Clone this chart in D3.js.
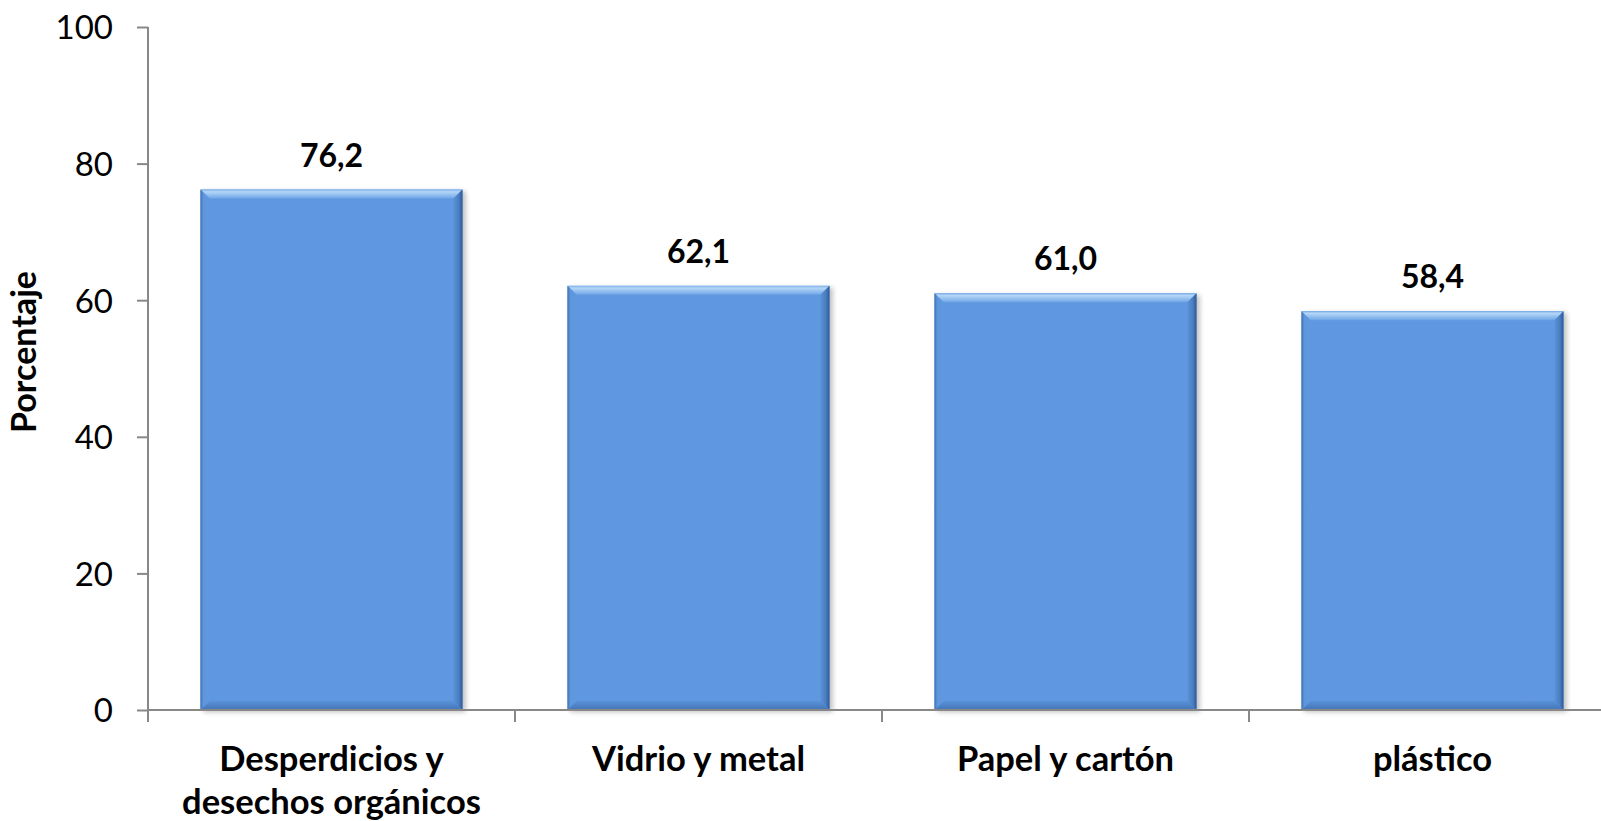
<!DOCTYPE html>
<html>
<head>
<meta charset="utf-8">
<script src="https://cdn.jsdelivr.net/npm/d3@7"></script>
<style>
  html, body { margin: 0; padding: 0; background: #fff; overflow: hidden; }
  text { font-family: Lato, "Open Sans", sans-serif; fill: #000; }
</style>
</head>
<body>
<svg id="chart" width="1601" height="821"></svg>
<script>
const categories = [["Desperdicios y", "desechos orgánicos"], ["Vidrio y metal"], ["Papel y cartón"], ["plástico"]];
const values = [76.2, 62.1, 61.0, 58.4];
const yTicks = [0, 20, 40, 60, 80, 100];
const yTitle = "Porcentaje";

(function () {
const svg = d3.select("#chart");
const mLeft = 148, mRight = 1616, mTop = 27, mBottom = 710;
const keys = categories.map((c, i) => i);

const x = d3.scaleBand().domain(keys).range([mLeft, mRight]).paddingInner(0.286).paddingOuter(0.143);
const y = d3.scaleLinear().domain([0, 100]).range([mBottom, mTop]);

const defs = svg.append("defs");
function lg(id, x1, y1, x2, y2, stops) {
  const g = defs.append("linearGradient").attr("id", id)
    .attr("x1", x1).attr("y1", y1).attr("x2", x2).attr("y2", y2);
  stops.forEach(s => g.append("stop").attr("offset", s[0]).attr("stop-color", s[1]));
}
lg("gTop", 0, 0, 0, 1, [[0, "#7FB0EA"], [0.25, "#B4D6F7"], [1, "#6EA5E6"]]);
lg("gBot", 0, 0, 0, 1, [[0, "#5A92D8"], [1, "#4374B5"]]);
lg("gLeft", 0, 0, 1, 0, [[0, "#3F6FAF"], [0.3, "#5D96DC"], [1, "#5F99E0"]]);
lg("gRight", 0, 0, 1, 0, [[0, "#5A92D8"], [0.6, "#4A7DC0"], [1, "#2E5994"]]);
const f = defs.append("filter").attr("id", "shadow").attr("x", "-10%").attr("y", "-10%").attr("width", "130%").attr("height", "130%");
f.append("feGaussianBlur").attr("in", "SourceAlpha").attr("stdDeviation", 2.5);
f.append("feOffset").attr("dx", 3).attr("dy", 2).attr("result", "b");
f.append("feComponentTransfer").append("feFuncA").attr("type", "linear").attr("slope", 0.25);
const fm = f.append("feMerge");
fm.append("feMergeNode");
fm.append("feMergeNode").attr("in", "SourceGraphic");

// y axis
const yAxis = svg.append("g").attr("transform", `translate(${mLeft},0)`)
  .call(d3.axisLeft(y).tickValues(yTicks).tickSize(11).tickPadding(24).tickFormat(d3.format("d")));
yAxis.select(".domain").attr("stroke", "#888").attr("stroke-width", 2).attr("d", `M0,${mTop}V${mBottom}`);
yAxis.selectAll(".tick line").attr("stroke", "#888").attr("stroke-width", 2);
yAxis.selectAll(".tick text").attr("font-size", 33).attr("font-family", "Lato").attr("fill", "#000").attr("dy", "0.36em");

// bars
const bw = x.bandwidth(), bv = 9;
const bars = svg.append("g").selectAll("g").data(values).join("g").attr("filter", "url(#shadow)");
bars.each(function (v, i) {
  const g = d3.select(this);
  const x0 = x(i), x1 = x0 + bw, y0 = y(v), y1 = y(0);
  g.append("rect").attr("x", x0).attr("y", y0).attr("width", bw).attr("height", y1 - y0).attr("fill", "#5E98E0");
  g.append("path").attr("d", `M${x0},${y0}L${x1},${y0}L${x1 - bv},${y0 + bv}L${x0 + bv},${y0 + bv}Z`).attr("fill", "url(#gTop)");
  g.append("path").attr("d", `M${x0},${y1}L${x1},${y1}L${x1 - bv},${y1 - bv}L${x0 + bv},${y1 - bv}Z`).attr("fill", "url(#gBot)");
  g.append("path").attr("d", `M${x0},${y0}L${x0 + bv},${y0 + bv}L${x0 + bv},${y1 - bv}L${x0},${y1}Z`).attr("fill", "url(#gLeft)");
  g.append("path").attr("d", `M${x1},${y0}L${x1 - bv},${y0 + bv}L${x1 - bv},${y1 - bv}L${x1},${y1}Z`).attr("fill", "url(#gRight)");
});

// x axis
const xAxis = svg.append("g").attr("transform", `translate(0,${mBottom})`);
xAxis.append("line").attr("x1", mLeft).attr("x2", mRight).attr("y1", 0).attr("y2", 0).attr("stroke", "#888").attr("stroke-width", 2);
const step = x.step();
d3.range(categories.length + 1).forEach(k => {
  const xx = mLeft + k * step;
  xAxis.append("line").attr("x1", xx).attr("x2", xx).attr("y1", 0).attr("y2", 12).attr("stroke", "#888").attr("stroke-width", 2);
});
categories.forEach((lines, i) => {
  const t = xAxis.append("text").attr("text-anchor", "middle").attr("font-size", 34.5).attr("font-weight", "bold")
    .attr("x", x(i) + bw / 2).attr("y", 61);
  lines.forEach((ln, j) => t.append("tspan").attr("x", x(i) + bw / 2).attr("dy", j === 0 ? 0 : 43).text(ln));
});

// value labels
svg.append("g").selectAll("text").data(values).join("text")
  .attr("x", (d, i) => x(i) + bw / 2).attr("y", d => y(d) - 23)
  .attr("text-anchor", "middle").attr("font-size", 32).attr("font-weight", "bold")
  .text(d => d3.format(".1f")(d).replace(".", ","));

// y title
svg.append("text").attr("transform", `translate(36,352) rotate(-90)`).attr("text-anchor", "middle")
  .attr("font-size", 34).attr("font-weight", "bold").text(yTitle);
})();
</script>
</body>
</html>
